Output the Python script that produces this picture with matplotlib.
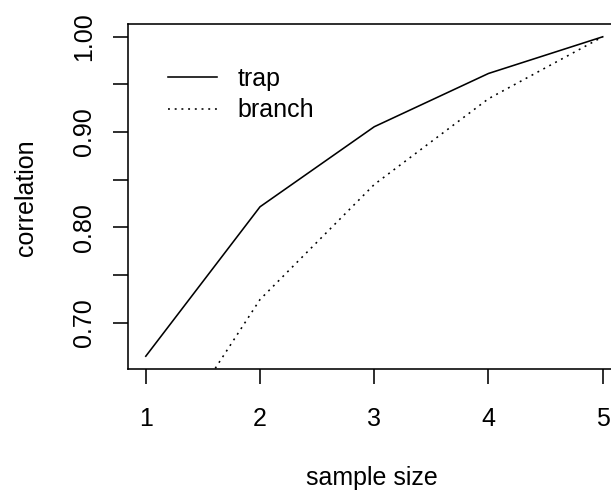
import matplotlib
matplotlib.use("Agg")
import matplotlib.pyplot as plt

# Correlation by sample size for the two estimators
sample_size = [1, 2, 3, 4, 5]
trap = [0.6648, 0.8216, 0.9056, 0.9615, 1.0]
branch = [0.54, 0.7243, 0.845, 0.935, 1.0]

x_ticks = [1, 2, 3, 4, 5]
y_major = [0.70, 0.80, 0.90, 1.00]
y_minor = [0.75, 0.85, 0.95]

plt.rcParams["font.family"] = ["Liberation Sans", "DejaVu Sans"]
FS = 18
LW = 1.15

fig = plt.figure(figsize=(6.11, 4.91), dpi=100)
W, H = 611, 491
left, right, top, bottom = 127.5, 621, 24, 369
ax = fig.add_axes([left / W, 1 - bottom / H, (right - left) / W, (bottom - top) / H])

ax.plot(sample_size, trap, color="black", lw=LW, ls="-", label="trap")
ax.plot(sample_size, branch, color="black", lw=LW, ls=(0, (1.2, 3.0)), label="branch")

lo = min(trap)
hi = max(trap)
pad = 0.04 * (hi - lo)
ax.set_ylim(lo - pad, hi + pad)
ax.set_xlim(1 - 0.16, 5 + 0.16)

ax.set_xticks(x_ticks)
ax.set_xticklabels([str(v) for v in x_ticks])
ax.set_yticks(y_major + y_minor)
ax.set_yticklabels([f"{v:.2f}" for v in y_major] + [""] * len(y_minor))
for lab in ax.get_yticklabels():
    lab.set_rotation(90)
    lab.set_va("center")

ax.tick_params(axis="x", length=11, width=LW, pad=16, labelsize=FS)
ax.tick_params(axis="y", length=11, width=LW, pad=11.5, labelsize=FS)
for s in ax.spines.values():
    s.set_linewidth(LW)

fig.text(372 / W, 1 - 478 / H, "sample size", ha="center", va="center", fontsize=FS)
fig.text(26 / W, 1 - 198 / H, "correlation", ha="center", va="center", rotation=90, fontsize=FS)

ax.legend(loc="upper left", bbox_to_anchor=(0.083, 0.876), frameon=False, fontsize=FS,
          handlelength=1.96, handletextpad=0.8, labelspacing=0.30,
          borderpad=0, borderaxespad=0)

fig.savefig("out.png", dpi=100)
